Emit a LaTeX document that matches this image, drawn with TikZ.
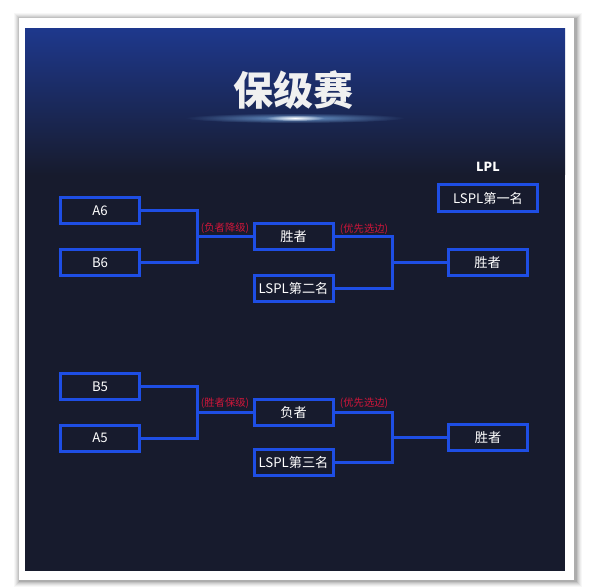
\documentclass[tikz,border=0pt]{standalone}
\usepackage{fontspec}
\setmainfont{Noto Sans CJK SC}
\usetikzlibrary{fadings}
\definecolor{navy}{RGB}{23,27,45}
\definecolor{topblue}{RGB}{30,56,140}
\definecolor{boxblue}{RGB}{30,78,228}
\definecolor{redlab}{RGB}{208,22,58}
\definecolor{glowblue}{RGB}{140,200,255}
\tikzfading[name=glowfade, inner color=transparent!0, outer color=transparent!100]
\tikzset{
  box/.style={draw=boxblue, line width=3pt, fill=navy, minimum width=79pt, minimum height=26pt, inner sep=0pt, text=white, font=\fontsize{13.2}{15}\selectfont},
  lab/.style={text=redlab, font=\fontsize{10.3}{12}\selectfont, inner sep=0pt},
  conn/.style={draw=boxblue, line width=3pt}
}
\begin{document}
\begin{tikzpicture}[x=1pt,y=-1pt]
\useasboundingbox (0,0) rectangle (592,588);
\fill[white] (0,0) rectangle (592,588);
% card shadow
\foreach \i/\o in {0/0.03,1/0.04,2/0.05,3/0.06,4/0.08,5/0.10}
  \fill[black,opacity=\o] (14+\i,13+\i) rectangle (582-\i,587-\i);
\fill[white] (19,18) rectangle (574,580);
% panel
\fill[navy] (25,29) rectangle (565,571);
\shade[top color=topblue, bottom color=navy] (25,29) rectangle (565,175);
% title glow
\fill[glowblue, path fading=glowfade, opacity=0.7] (295,118) ellipse (110 and 5);
\fill[white, path fading=glowfade] (295,118) ellipse (30 and 3);
\node[font=\bfseries\fontsize{40}{40}\selectfont, text=white!88!gray] (title) at (293,90) {保级赛};

% upper bracket
\node[box] (A6) at (100,211) {A6};
\node[box] (B6) at (100,262.5) {B6};
\node[box] (W1) at (293.5,236.5) {胜者};
\node[box] (L2) at (293.5,288.5) {LSPL第二名};
\node[text=white, font=\bfseries\fontsize{12.5}{14}\selectfont] (LPL) at (488,167) {LPL};
\node[box, minimum width=99pt, minimum height=27pt] (L1) at (488,198) {LSPL第一名};
\node[box] (WR1) at (487.5,262.5) {胜者};
\coordinate (j1) at (197,236.5);
\coordinate (j2) at (392,262.5);
\draw[conn] (A6.east) -| (j1) |- (B6.east);
\draw[conn] (j1) -- (W1.west);
\draw[conn] (W1.east) -| (j2) |- (L2.east);
\draw[conn] (j2) -- (WR1.west);
\node[lab] (lab1) at (225,228) {(负者降级)};
\node[lab] (lab2) at (364,229) {(优先选边)};

% lower bracket
\node[box] (B5) at (100,386.5) {B5};
\node[box] (A5) at (100,438) {A5};
\node[box] (F1) at (293.5,412) {负者};
\node[box] (L3) at (293.5,462.5) {LSPL第三名};
\node[box] (WR2) at (488,437.5) {胜者};
\coordinate (j3) at (197,412);
\coordinate (j4) at (392,437.5);
\draw[conn] (B5.east) -| (j3) |- (A5.east);
\draw[conn] (j3) -- (F1.west);
\draw[conn] (F1.east) -| (j4) |- (L3.east);
\draw[conn] (j4) -- (WR2.west);
\node[lab] (lab3) at (225,403) {(胜者保级)};
\node[lab] (lab4) at (364,403) {(优先选边)};
\end{tikzpicture}
\end{document}
